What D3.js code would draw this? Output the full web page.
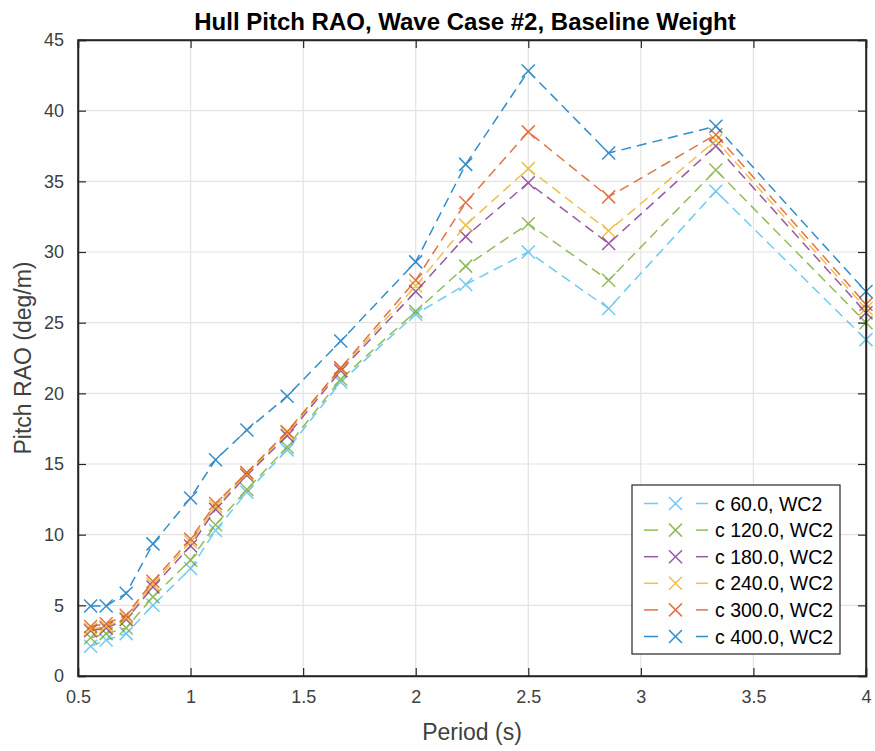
<!DOCTYPE html>
<html><head><meta charset="utf-8">
<script src="https://cdn.jsdelivr.net/npm/d3@7"></script>
<style>
body{margin:0;background:#fff;}
text{font-family:"Liberation Sans",Arial,sans-serif;}
</style></head>
<body><svg id="c" width="875" height="751"></svg>
<script>
const periods = [0.556, 0.625, 0.714, 0.833, 1.0, 1.111, 1.25, 1.429, 1.667, 2.0, 2.222, 2.5, 2.857, 3.333, 4.0];
const seriesNames = ["c 60.0, WC2","c 120.0, WC2","c 180.0, WC2","c 240.0, WC2","c 300.0, WC2","c 400.0, WC2"];
const c60  = [2.1, 2.55, 3.0, 5.0, 7.6, 10.3, 13.0, 16.0, 20.8, 25.6, 27.7, 30.0, 26.0, 34.3, 23.8];
const c120 = [2.7, 3.0, 3.4, 5.6, 8.2, 10.7, 13.2, 16.2, 21.0, 25.8, 29.0, 32.0, 28.0, 35.8, 25.0];
const c180 = [3.2, 3.4, 4.0, 6.3, 9.2, 11.8, 14.2, 17.0, 21.6, 27.2, 31.1, 34.9, 30.6, 37.5, 25.7];
const c240 = [3.3, 3.5, 4.1, 6.5, 9.5, 12.0, 14.3, 17.2, 21.7, 27.6, 31.9, 35.9, 31.5, 37.9, 26.0];
const c300 = [3.5, 3.7, 4.3, 6.7, 9.7, 12.2, 14.4, 17.3, 21.8, 28.0, 33.5, 38.5, 33.9, 38.3, 26.3];
const c400 = [4.95, 4.95, 5.85, 9.35, 12.6, 15.3, 17.4, 19.8, 23.7, 29.3, 36.2, 42.8, 37.0, 38.9, 27.2];
const colors = ["#4DBEEE","#77AC30","#7E2F8E","#EDB120","#D95319","#0072BD"];
const xTicks = [0.5,1,1.5,2,2.5,3,3.5,4];
const yTicks = [0,5,10,15,20,25,30,35,40,45];
const allSeries = [c60,c120,c180,c240,c300,c400];

const svg = d3.select("#c");
const L=78, R=866, T=40, B=676;
const x = d3.scaleLinear().domain([0.5,4]).range([L,R]);
const y = d3.scaleLinear().domain([0,45]).range([B,T]);
const axisCol = "#262626";

// grid
const g = svg.append("g");
g.selectAll(".gx").data(xTicks).enter().append("line")
 .attr("x1",d=>x(d)).attr("x2",d=>x(d)).attr("y1",T).attr("y2",B)
 .attr("stroke","#e3e3e3").attr("stroke-width",1.2);
g.selectAll(".gy").data(yTicks).enter().append("line")
 .attr("y1",d=>y(d)).attr("y2",d=>y(d)).attr("x1",L).attr("x2",R)
 .attr("stroke","#e3e3e3").attr("stroke-width",1.2);

// series
const line = d3.line().x((d,i)=>x(periods[i])).y(d=>y(d));
const ms = 6.5;
allSeries.forEach((s,k)=>{
  const sg = svg.append("g").attr("opacity",0.8);
  sg.append("path").datum(s).attr("d",line).attr("fill","none")
    .attr("stroke",colors[k]).attr("stroke-width",1.5).attr("stroke-dasharray","10,6");
  sg.selectAll("path.m").data(s).enter().append("path").attr("class","m")
    .attr("d",(d,i)=>{const cx=x(periods[i]), cy=y(d);
      return `M${cx-ms},${cy-ms}L${cx+ms},${cy+ms}M${cx-ms},${cy+ms}L${cx+ms},${cy-ms}`;})
    .attr("stroke",colors[k]).attr("stroke-width",1.5).attr("fill","none");
});

// axes
const fs = 18;
const xa = svg.append("g").attr("transform",`translate(0,${B})`)
 .call(d3.axisBottom(x).tickValues(xTicks).tickFormat(d3.format("~g")).tickSize(-8).tickPadding(14));
const xa2 = svg.append("g").attr("transform",`translate(0,${T})`)
 .call(d3.axisTop(x).tickValues(xTicks).tickFormat("").tickSize(-8));
const ya = svg.append("g").attr("transform",`translate(${L},0)`)
 .call(d3.axisLeft(y).tickValues(yTicks).tickFormat(d3.format("~g")).tickSize(-8).tickPadding(14));
const ya2 = svg.append("g").attr("transform",`translate(${R},0)`)
 .call(d3.axisRight(y).tickValues(yTicks).tickFormat("").tickSize(-8));
[xa,xa2,ya,ya2].forEach(a=>{
  a.select(".domain").attr("stroke",axisCol).attr("stroke-width",1.5);
  a.selectAll(".tick line").attr("stroke",axisCol).attr("stroke-width",1.2);
  a.selectAll("text").attr("fill","#404040").attr("font-size",fs)
   .attr("font-family","'Liberation Sans',Arial,sans-serif");
});
svg.append("rect").attr("x",L).attr("y",T).attr("width",R-L).attr("height",B-T)
 .attr("fill","none").attr("stroke",axisCol).attr("stroke-width",1.5);

// labels
svg.append("text").attr("x",465).attr("y",30).attr("text-anchor","middle")
 .attr("font-size",24).attr("font-weight","bold").attr("fill","#000")
 .text("Hull Pitch RAO, Wave Case #2, Baseline Weight");
svg.append("text").attr("x",(L+R)/2).attr("y",740).attr("text-anchor","middle")
 .attr("font-size",23).attr("fill","#404040").text("Period (s)");
svg.append("text").attr("transform",`translate(31,${(T+B)/2}) rotate(-90)`).attr("text-anchor","middle")
 .attr("font-size",23).attr("fill","#404040").text("Pitch RAO (deg/m)");

// legend
const lx=632, ly=485, lw=208, lh=169;
const lg = svg.append("g");
lg.append("rect").attr("x",lx).attr("y",ly).attr("width",lw).attr("height",lh)
 .attr("fill","#fff").attr("stroke",axisCol).attr("stroke-width",1.2);
seriesNames.forEach((n,k)=>{
  const cy = 503.5 + k*26.6;
  const e = lg.append("g").attr("opacity",0.8);
  e.append("line").attr("x1",644).attr("x2",658).attr("y1",cy).attr("y2",cy).attr("stroke",colors[k]).attr("stroke-width",1.5);
  e.append("line").attr("x1",696).attr("x2",708).attr("y1",cy).attr("y2",cy).attr("stroke",colors[k]).attr("stroke-width",1.5);
  const cx=675.5;
  e.append("path").attr("d",`M${cx-ms},${cy-ms}L${cx+ms},${cy+ms}M${cx-ms},${cy+ms}L${cx+ms},${cy-ms}`)
   .attr("stroke",colors[k]).attr("stroke-width",1.5);
  lg.append("text").attr("x",715).attr("y",cy).attr("dy","0.36em").attr("font-size",19.5)
   .attr("fill","#000").text(n);
});
</script></body></html>
